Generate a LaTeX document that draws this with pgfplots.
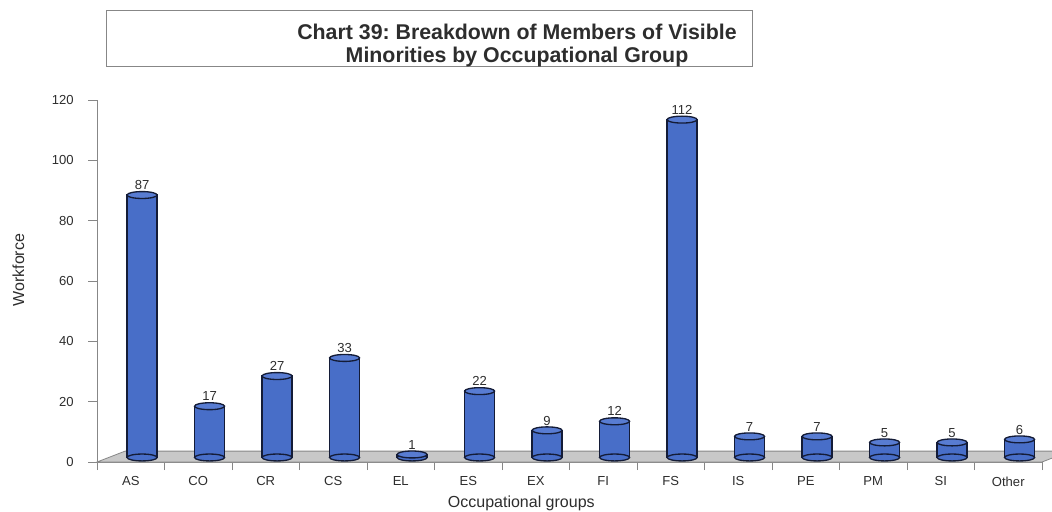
\documentclass[border=0pt]{standalone}
\usepackage{fontspec}
\setmainfont{Liberation Sans}
\usepackage{pgfplots}
\pgfplotsset{compat=1.18}
\usepackage{pgfplotstable}
\definecolor{barblue}{RGB}{72,110,200}
\definecolor{bartop}{RGB}{88,124,210}
\definecolor{barline}{RGB}{20,28,55}
\definecolor{floorgray}{RGB}{200,200,200}
\definecolor{axisgray}{RGB}{135,135,135}
\definecolor{txt}{RGB}{45,45,45}
\pgfplotstableread{
x v z
0 87 0
1 17 0
2 27 0
3 33 0
4 1 0
5 22 0
6 9 0
7 12 0
8 112 0
9 7 0
10 7 0
11 5 0
12 5 0
13 6 0
}\datatable
\frenchspacing
\begin{document}
\begin{tikzpicture}
\useasboundingbox (0,0) rectangle (789pt,-383.25pt);
\draw[axisgray, line width=0.6pt] (79.5pt,-7.5pt) rectangle (564pt,-49.5pt);
\node[font=\bfseries\fontsize{16}{19}\selectfont, text=txt] at (387.75pt,-24pt) {Chart 39: Breakdown of Members of Visible};
\node[font=\bfseries\fontsize{16}{19}\selectfont, text=txt] at (387.75pt,-42.5pt) {Minorities by Occupational Group};
\begin{axis}[
  at={(72.75pt,-346.5pt)}, anchor=south west,
  scale only axis, width=708.75pt, height=271.5pt,
  xmin=-0.5, xmax=13.5, ymin=-1.5, ymax=118.5,
  clip=false,
  axis y line*=left, axis x line*=bottom,
  axis line style={axisgray, line width=0.6pt},
  /pgf/number format/assume math mode=true,
  tick align=outside,
  major tick length=0pt,
  minor tick length=6pt,
  major tick style={axisgray, line width=0.6pt},
  minor tick style={axisgray, line width=0.6pt},
  xtick={0,...,13},
  xticklabels={AS,CO,CR,CS,EL,ES,EX,FI,FS,IS,PE,PM,SI,Other},
  x tick label style={yshift=-7.5pt},
  minor xtick={-0.5,0.5,...,13.5},
  ytick=\empty,
  extra y ticks={-1.5,18.5,38.5,58.5,78.5,98.5,118.5},
  extra y tick labels={0,20,40,60,80,100,120},
  extra y tick style={major tick length=6.5pt, y tick label style={xshift=-7.5pt}},
  tick label style={font=\fontsize{9.8}{11}\selectfont, text=txt},
  xlabel={Occupational groups},
  ylabel={Workforce},
  every axis x label/.style={at={(axis description cs:0.449,-0.113)}, anchor=center, font=\fontsize{12}{14}\selectfont, text=txt},
  every axis y label/.style={at={(axis description cs:-0.0833,0.53)}, anchor=center, rotate=90, font=\fontsize{12}{14}\selectfont, text=txt},
]
\fill[floorgray, draw=axisgray, line width=0.6pt] (axis cs:-0.5,-1.5) -- (axis cs:13.5,-1.5) -- (axis cs:13.915,2.1) -- (axis cs:-0.085,2.1) -- cycle;
\addplot[only marks, mark=*, mark size=11.25pt,
  mark options={xshift=8.5pt, yscale=0.23, fill=barblue, draw=barline, line width=1pt}]
  table[x=x, y=z] {\datatable};
\addplot[ybar, bar width=22.5pt, bar shift=8.5pt, fill=barblue, draw=barline, line width=1pt]
  table[x=x, y=v] {\datatable};
\addplot[only marks, mark=*, mark size=11.25pt,
  mark options={xshift=8.5pt, yscale=0.23, fill=bartop, draw=barline, line width=1pt},
  nodes near coords,
  nodes near coords style={anchor=base, yshift=4pt, inner sep=0pt, font=\fontsize{9.8}{11}\selectfont, text=txt}]
  table[x=x, y=v] {\datatable};
\end{axis}
\end{tikzpicture}
\end{document}
